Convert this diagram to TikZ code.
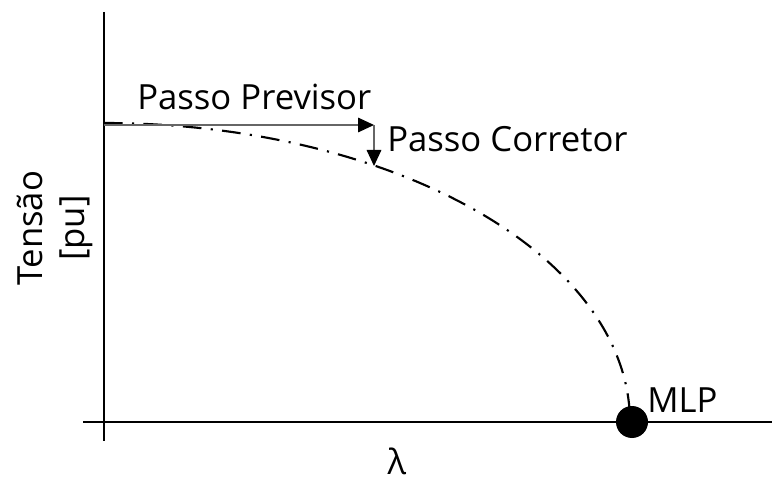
\documentclass[tikz,border=0pt]{standalone}
\usepackage{fontspec}
\setmainfont{Open Sans}
\usetikzlibrary{arrows.meta}
\begin{document}
\begin{tikzpicture}[x=0.75pt,y=-0.75pt,
  axis/.style={line width=1.6pt,black},
  curve/.style={line width=1.6pt,black,dash pattern=on 14pt off 7pt on 1.6pt off 7pt},
  steparrow/.style={line width=0.8pt,gray!80!black,-{Triangle[length=12pt,width=11pt,color=black]}},
  lbl/.style={font=\fontsize{26}{31}\selectfont,inner sep=0pt,text=black}]
\useasboundingbox (0,0) rectangle (772,481);
% axes
\coordinate (ytop) at (104,12);
\coordinate (ybot) at (104,441);
\coordinate (xleft) at (83,422);
\coordinate (xright) at (772,422);
\draw[axis] (ytop) -- (ybot);
\draw[axis] (xleft) -- (xright);
% curve (quarter ellipse)
\draw[curve] plot[domain=90:0,samples=80,smooth] ({104+526*cos(\x)},{422-299*sin(\x)});
% MLP point
\node[circle,fill=black,minimum size=24pt,inner sep=0pt] (mlp) at (632,422) {};
% step arrows
\coordinate (p0) at (104,125);
\coordinate (p1) at (374,125);
\coordinate (p2) at (374,166);
\draw[steparrow] (p0) -- (p1);
\draw[steparrow] (p1) -- (p2);
% labels
\node[lbl,anchor=base west] (prev) at (137,110) {Passo Previsor};
\node[lbl,anchor=base west] (corr) at (387,152) {Passo Corretor};
\node[lbl,anchor=base west] (mlplbl) at (647,412) {MLP};
\node[lbl,anchor=base] (lam) at (397,474) {λ};
\node[lbl,rotate=90,align=center] (ylab) at (55,228) {Tensão\\{[pu]}};
\end{tikzpicture}
\end{document}
